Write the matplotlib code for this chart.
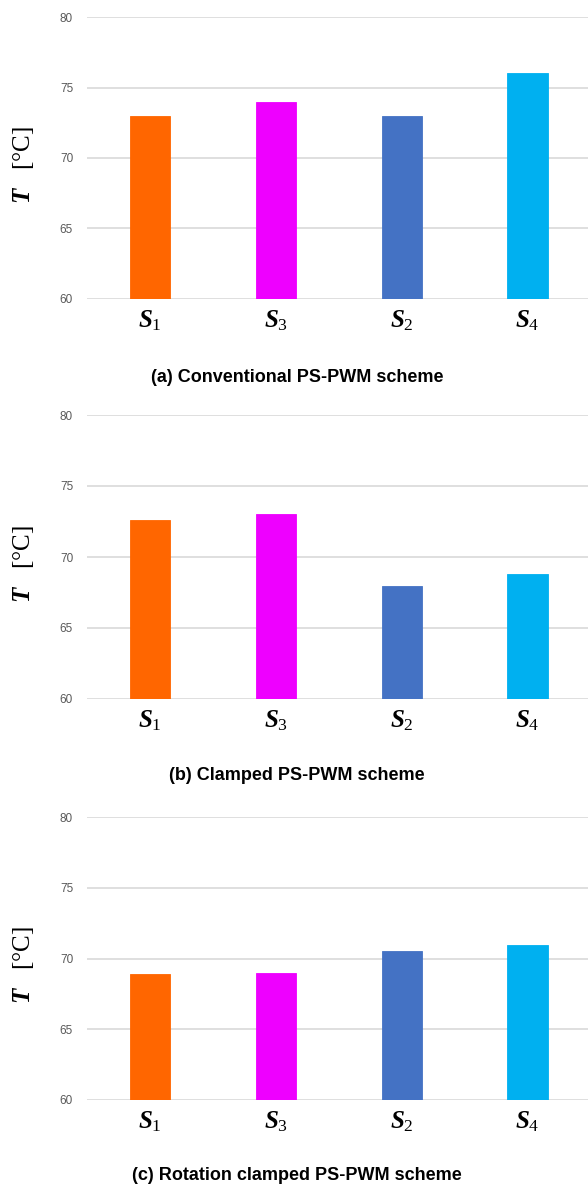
import matplotlib
matplotlib.use("Agg")
import matplotlib.pyplot as plt

plt.rcParams['mathtext.fontset'] = 'custom'
plt.rcParams['mathtext.it'] = 'Liberation Serif:italic:bold'
plt.rcParams['mathtext.rm'] = 'Liberation Serif'
plt.rcParams['mathtext.bf'] = 'Liberation Serif:bold'

categories = [r'$S_1$', r'$S_3$', r'$S_2$', r'$S_4$']
colors = ['#FF6600', '#EE00FF', '#4472C4', '#00B0F0']
conventional = [72.95, 74.0, 72.95, 76.0]
clamped = [72.6, 73.0, 67.95, 68.8]
rotation = [68.9, 69.0, 70.55, 70.95]
yticks = [60, 65, 70, 75, 80]
captions = ['(a) Conventional PS-PWM scheme',
            '(b) Clamped PS-PWM scheme',
            '(c) Rotation clamped PS-PWM scheme']
series = [conventional, clamped, rotation]

W, H = 588, 1187
fig = plt.figure(figsize=(W / 100, H / 100), dpi=100)

# (top pixel of 80, bottom pixel of 60, caption y pixel)
layout = [(17, 299, 377), (415, 699, 775), (817, 1100, 1175)]
left_px, right_px = 87, 588

for vals, cap, (top, bot, capy) in zip(series, captions, layout):
    ax = fig.add_axes([left_px / W, 1 - bot / H, (right_px - left_px) / W, (bot - top) / H])
    x = range(len(categories))
    ax.bar(x, vals, width=0.32, bottom=0, color=colors, zorder=3,
           edgecolor=[c for c in colors], linewidth=0.6)
    ax.set_ylim(60, 80)
    ax.set_xlim(-0.5, 3.48)
    ax.set_yticks(yticks)
    ax.set_yticklabels([str(t) for t in yticks], color='#595959', fontsize=8.5,
                       family='Liberation Sans')
    ax.set_xticks(list(x))
    ax.set_xticklabels(categories, fontsize=18)
    ax.tick_params(axis='both', length=0)
    ax.tick_params(axis='y', pad=10)
    ax.tick_params(axis='x', pad=7)
    ax.grid(axis='y', color='#dcdcdc', linewidth=1.3, zorder=0)
    for s in ax.spines.values():
        s.set_visible(False)
    ax.set_ylabel(r'$T$   [°C]', family='Liberation Serif', fontsize=18)
    ax.yaxis.set_label_coords(-0.102, 0.475)
    fig.text(297 / W, 1 - capy / H, cap, ha='center', va='center',
             family='Liberation Sans', fontweight='bold', fontsize=13)

fig.savefig('out.png', dpi=100)
